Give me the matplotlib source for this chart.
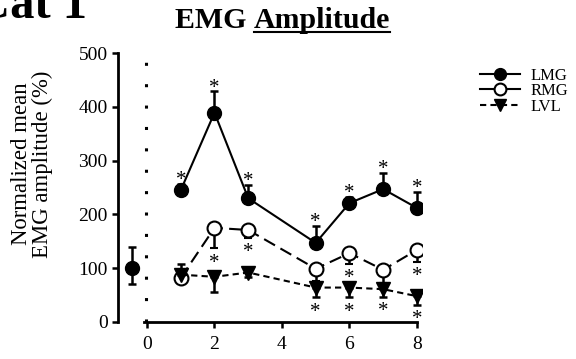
import numpy as np
import matplotlib.pyplot as plt
from matplotlib.lines import Line2D

plt.rcParams['font.family'] = ['Liberation Serif', 'DejaVu Serif']

# data
days = [1, 2, 3, 5, 6, 7, 8]
lmg = [245, 389, 230, 147, 221, 247, 212]
lmg_up = [12, 40, 25, 32, 12, 30, 30]
rmg = [82, 175, 171, 99, 128, 97, 134]
rmg_dn = [0, 38, 14, 22, 20, 25, 22]
lvl = [88, 84, 92, 64, 64, 61, 48]
lvl_up = [20, 0, 8, 0, 0, 0, 0]
lvl_dn = [0, 28, 8, 18, 18, 14, 16]
base_x = -0.44
base_y = 100
base_up = 40
base_dn = 30
lmg_star = [1, 2, 3, 5, 6, 7, 8]
rmg_star = [2, 3, 6, 8]
lvl_star = [5, 6, 7, 8]

fig = plt.figure(figsize=(5.76, 3.59), dpi=100)
ax = fig.add_axes([118/576, 37/359, 304/576, 269/359])

ek = dict(ecolor='black', elinewidth=1.8, capsize=3, capthick=1.8)

ax.errorbar(days, lmg, yerr=[np.zeros(7), lmg_up], fmt='-o', color='black',
            mfc='black', mec='black', ms=10, lw=1.5, zorder=3, **ek)
ax.errorbar(days, rmg, yerr=[rmg_dn, np.zeros(7)], fmt='o', ls=(0, (6, 3)), color='black',
            mfc='white', mec='black', ms=10, mew=1.5, lw=1.5, zorder=4, **ek)
ax.errorbar(days, lvl, yerr=[lvl_dn, lvl_up], fmt='v', ls=(0, (3, 2)), color='black',
            mfc='black', mec='black', ms=10, lw=1.5, zorder=5, **ek)
ax.errorbar([base_x], [base_y], yerr=[[base_dn], [base_up]], fmt='o', color='black',
            ms=10, **ek)

# asterisks
def star(x, y, dy):
    ax.annotate('*', xy=(x, y), xytext=(0, dy), textcoords='offset points',
                ha='center', va='baseline', fontsize=15)

for d in lmg_star:
    i = days.index(d)
    star(d, lmg[i] + lmg_up[i], -1)
for d in rmg_star:
    i = days.index(d)
    star(d, rmg[i] - rmg_dn[i], -14)
for d in lvl_star:
    i = days.index(d)
    star(d, lvl[i] - lvl_dn[i], -14)

# dotted separator
ax.plot([-0.03, -0.03], [0, 485], color='black', lw=2.2, ls=(0, (1, 6)))

ax.set_xlim(-0.86, 8.15)
ax.set_ylim(0, 500)
ax.spines['top'].set_visible(False)
ax.spines['right'].set_visible(False)
ax.spines['left'].set_linewidth(2)
ax.spines['bottom'].set_linewidth(2)
ax.spines['bottom'].set_bounds(-0.1, 8)
ax.set_xticks([0, 2, 4, 6, 8])
ax.set_yticks([0, 100, 200, 300, 400, 500])
ax.tick_params(width=1.8, length=4, labelsize=14)
ax.tick_params(axis='x', pad=6)
ax.set_ylabel('Normalized mean\nEMG amplitude (%)', fontsize=16.4, linespacing=1.0)
ax.yaxis.set_label_coords(-0.214, 0.587)

handles = [
    Line2D([], [], color='black', marker='o', mfc='black', ms=8.5, lw=1.5),
    Line2D([], [], color='black', marker='o', mfc='white', ms=8.5, mew=1.5, lw=1.5),
    Line2D([], [], color='black', marker='v', mfc='black', ms=8.5, lw=1.5, ls=(0, (3, 2))),
]
ax.legend(handles, ['LMG', 'RMG', 'LVL'], loc='upper left', bbox_to_anchor=(1.17, 0.97),
          frameon=False, fontsize=12, handlelength=2.4, handletextpad=0.6,
          labelspacing=-0.03, borderaxespad=0)

fig.text(-0.043, 0.95, 'Cat 1', fontsize=35, fontweight='bold', va='baseline', ha='left')
fig.text(0.441, 0.922, 'EMG ', fontsize=21.5, fontweight='bold', ha='right', va='baseline')
amp = fig.text(0.441, 0.922, 'Amplitude', fontsize=21.5, fontweight='bold',
               ha='left', va='baseline')
fig.canvas.draw()
bb = amp.get_window_extent().transformed(fig.transFigure.inverted())
fig.add_artist(Line2D([bb.x0, bb.x1], [0.912, 0.912], color='black', lw=1.5))

fig.savefig('out.png', dpi=100)
